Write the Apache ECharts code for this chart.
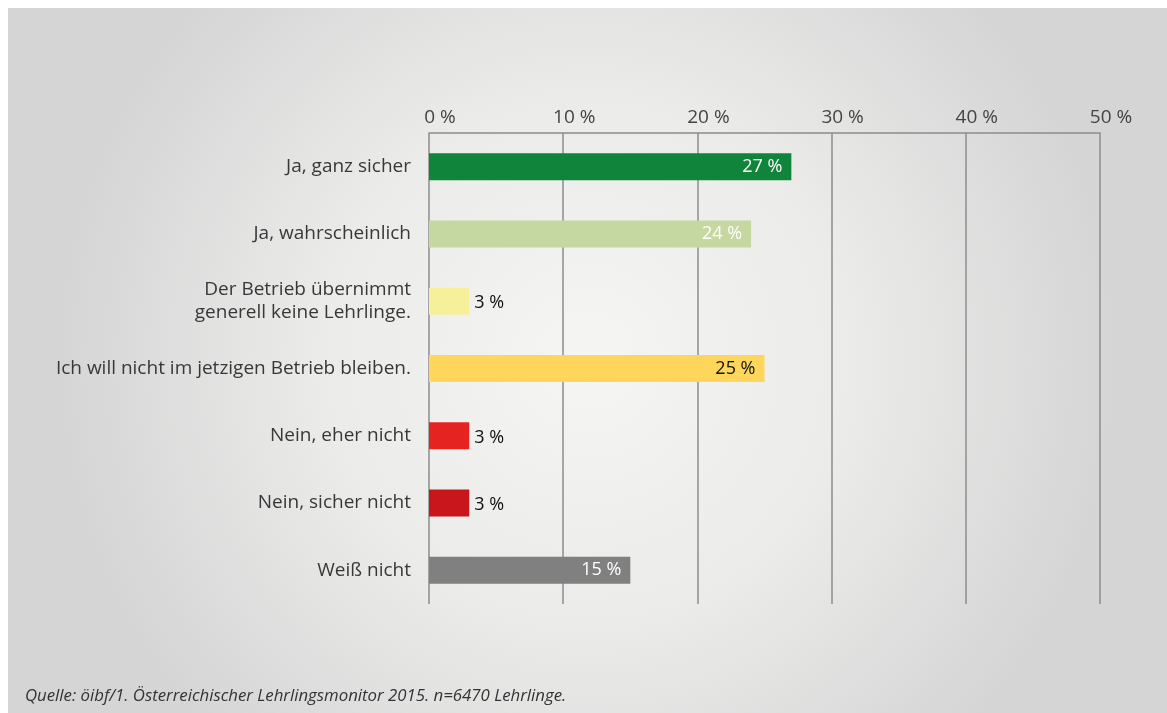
<!DOCTYPE html>
<html>
<head>
<meta charset="utf-8">
<script src="https://cdn.jsdelivr.net/npm/echarts@6/dist/echarts.min.js"></script>
<style>
html,body{margin:0;padding:0;background:#fff;}
#chart{width:1167px;height:713px;}
</style>
</head>
<body>
<div id="chart"></div>
<script>
var categories = [
  "Ja, ganz sicher",
  "Ja, wahrscheinlich",
  "Der Betrieb übernimmt\ngenerell keine Lehrlinge.",
  "Ich will nicht im jetzigen Betrieb bleiben.",
  "Nein, eher nicht",
  "Nein, sicher nicht",
  "Weiß nicht"
];
var values = [27, 24, 3, 25, 3, 3, 15];
var barColors = ["#10843a", "#c5d89f", "#f7f09a", "#fed65b", "#e52421", "#c9161c", "#808080"];
var labelColors = ["#ffffff", "#ffffff", "#111111", "#111111", "#111111", "#111111", "#ffffff"];
var labelInside = [true, true, false, true, false, false, true];
var xTicks = { min: 0, max: 50, interval: 10 };
var source = "Quelle: öibf/1. Österreichischer Lehrlingsmonitor 2015. n=6470 Lehrlinge.";

var FONT = '"Open Sans", "Noto Sans", sans-serif';

var chart = echarts.init(document.getElementById('chart'));
var data = values.map(function (v, i) {
  return {
    value: v,
    itemStyle: { color: barColors[i] },
    label: {
      position: labelInside[i] ? 'insideRight' : 'right',
      distance: labelInside[i] ? 9 : 5,
      color: labelColors[i],
      offset: labelInside[i] ? [0, 0] : [0, 2]
    }
  };
});

chart.setOption({
  animation: false,
  backgroundColor: '#ffffff',
  graphic: [{
    type: 'rect',
    z: -10,
    silent: true,
    shape: { x: 8, y: 8, width: 1159, height: 705 },
    style: {
      fill: new echarts.graphic.RadialGradient(0.5, 0.5, 0.75, [
        { offset: 0, color: '#f5f5f4' },
        { offset: 0.5, color: '#ebebea' },
        { offset: 1, color: '#d5d5d5' }
      ])
    }
  }, {
    type: 'text',
    left: 25,
    top: 688,
    style: {
      text: source,
      font: 'italic 16.8px ' + FONT,
      fill: '#333333'
    }
  }],
  grid: { left: 429, right: 67, top: 133, height: 471, containLabel: false },
  xAxis: {
    type: 'value',
    position: 'top',
    min: xTicks.min,
    max: xTicks.max,
    interval: xTicks.interval,
    axisLine: { show: true, lineStyle: { color: '#8c8c8c', width: 1.5 } },
    axisTick: { show: false },
    axisLabel: {
      formatter: '{value} %',
      color: '#444444',
      fontFamily: FONT,
      fontSize: 19,
      margin: 6,
      padding: [0, 0, 0, 22]
    },
    splitLine: { show: true, lineStyle: { color: '#8c8c8c', width: 1.5 } }
  },
  yAxis: {
    type: 'category',
    inverse: true,
    data: categories,
    axisLine: { show: false },
    axisTick: { show: false },
    axisLabel: {
      color: '#383838',
      fontFamily: FONT,
      fontSize: 19,
      margin: 18,
      lineHeight: 23,
      align: 'right'
    }
  },
  series: [{
    type: 'bar',
    data: data,
    barWidth: 27,
    label: {
      show: true,
      formatter: '{c} %',
      fontFamily: FONT,
      fontSize: 18
    }
  }]
});
</script>
</body>
</html>
